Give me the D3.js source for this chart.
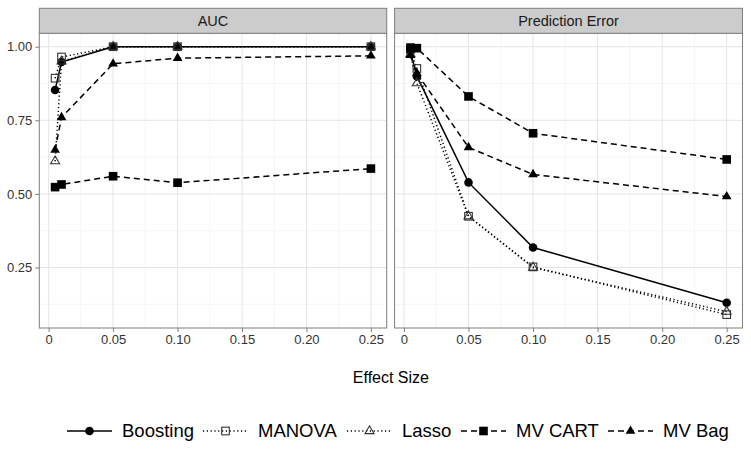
<!DOCTYPE html>
<html><head><meta charset="utf-8">
<script src="https://cdn.jsdelivr.net/npm/d3@7"></script>
<style>body{margin:0;background:#fff}svg{display:block;font-family:"Liberation Sans",Arial,Helvetica,sans-serif}</style>
</head><body><svg id="c" width="751" height="449"></svg>
<script>
const effectSizes = [0.005, 0.01, 0.05, 0.10, 0.25];
const panels = ["AUC", "Prediction Error"];
const methods = ["Boosting", "MANOVA", "Lasso", "MV CART", "MV Bag"];
const xTicks = [0, 0.05, 0.10, 0.15, 0.20, 0.25];
const xTickLabels = ["0", "0.05", "0.10", "0.15", "0.20", "0.25"];
const yTicks = [0.25, 0.50, 0.75, 1.00];
const yTickLabels = ["0.25", "0.50", "0.75", "1.00"];

const aucBoosting = [0.853, 0.948, 1.0, 1.0, 1.0];
const aucManova   = [0.893, 0.965, 1.0, 1.0, 1.0];
const aucLasso    = [0.611, 0.950, 1.0, 1.0, 1.0];
const aucCart     = [0.523, 0.532, 0.560, 0.538, 0.586];
const aucBag      = [0.649, 0.760, 0.942, 0.961, 0.969];

const peBoosting = [0.985, 0.900, 0.539, 0.318, 0.130];
const peManova   = [0.990, 0.926, 0.424, 0.252, 0.090];
const peLasso    = [0.975, 0.876, 0.424, 0.250, 0.100];
const peCart     = [0.997, 0.995, 0.831, 0.706, 0.617];
const peBag      = [0.971, 0.910, 0.658, 0.566, 0.491];

const dataByPanel = {
  "AUC": [aucBoosting, aucManova, aucLasso, aucCart, aucBag],
  "Prediction Error": [peBoosting, peManova, peLasso, peCart, peBag]
};

const dash = {"Boosting": null, "MANOVA": "1.2,2.6", "Lasso": "1.2,2.6", "MV CART": "6,4", "MV Bag": "6,4"};
const shape = {"Boosting": "circle", "MANOVA": "osquare", "Lasso": "otriangle", "MV CART": "square", "MV Bag": "triangle"};

const svg = d3.select("#c");
const pTop = 33.3, pBottom = 328, stripTop = 8.3;
const panelX = [[39.3, 386.7], [394.6, 742.5]];
const y = d3.scaleLinear().domain([0.0445, 1.0455]).range([pBottom, pTop]);

function drawMarker(g, type, cx, cy) {
  if (type === "circle") g.append("circle").attr("cx", cx).attr("cy", cy).attr("r", 4.3).attr("fill", "#000");
  else if (type === "square") g.append("rect").attr("x", cx-4.3).attr("y", cy-4.3).attr("width", 8.6).attr("height", 8.6).attr("fill", "#000");
  else if (type === "osquare") g.append("rect").attr("x", cx-3.8).attr("y", cy-3.8).attr("width", 7.6).attr("height", 7.6).attr("fill", "none").attr("stroke", "#333").attr("stroke-width", 1.1);
  else if (type === "triangle") { const r = 5.6; g.append("path").attr("d", `M${cx},${cy-r}L${cx+r*0.866},${cy+r*0.5}L${cx-r*0.866},${cy+r*0.5}Z`).attr("fill", "#000"); }
  else if (type === "otriangle") { const r = 5.2; g.append("path").attr("d", `M${cx},${cy-r}L${cx+r*0.866},${cy+r*0.5}L${cx-r*0.866},${cy+r*0.5}Z`).attr("fill", "none").attr("stroke", "#333").attr("stroke-width", 1.1); }
}

panels.forEach((pname, pi) => {
  const [x0, x1] = panelX[pi];
  const x = d3.scaleLinear().domain([-0.00725, 0.26225]).range([x0, x1]);
  const g = svg.append("g");
  g.append("rect").attr("x", x0).attr("y", pTop).attr("width", x1-x0).attr("height", pBottom-pTop).attr("fill", "#fff");
  const xMinor = [0.025, 0.075, 0.125, 0.175, 0.225];
  const yMinor = [0.125, 0.375, 0.625, 0.875];
  g.selectAll(".xm").data(xMinor).join("line").attr("x1", d=>x(d)).attr("x2", d=>x(d)).attr("y1", pTop).attr("y2", pBottom).attr("stroke", "#f5f5f5").attr("stroke-width", 1);
  g.selectAll(".ym").data(yMinor).join("line").attr("x1", x0).attr("x2", x1).attr("y1", d=>y(d)).attr("y2", d=>y(d)).attr("stroke", "#f5f5f5").attr("stroke-width", 1);
  g.selectAll(".xg").data(xTicks).join("line").attr("x1", d=>x(d)).attr("x2", d=>x(d)).attr("y1", pTop).attr("y2", pBottom).attr("stroke", "#e5e5e5").attr("stroke-width", 1);
  g.selectAll(".yg").data(yTicks).join("line").attr("x1", x0).attr("x2", x1).attr("y1", d=>y(d)).attr("y2", d=>y(d)).attr("stroke", "#e5e5e5").attr("stroke-width", 1);

  const series = dataByPanel[pname];
  const line = d3.line().x((d,i)=>x(effectSizes[i])).y(d=>y(d));
  methods.forEach((m, mi) => {
    g.append("path").attr("d", line(series[mi])).attr("fill", "none").attr("stroke", "#000")
      .attr("stroke-width", 1.5).attr("stroke-dasharray", dash[m]);
  });
  methods.forEach((m, mi) => {
    series[mi].forEach((v, i) => drawMarker(g, shape[m], x(effectSizes[i]), y(v)));
  });

  g.append("rect").attr("x", x0).attr("y", pTop).attr("width", x1-x0).attr("height", pBottom-pTop).attr("fill", "none").attr("stroke", "#7f7f7f").attr("stroke-width", 1);
  g.append("rect").attr("x", x0).attr("y", stripTop).attr("width", x1-x0).attr("height", pTop-stripTop).attr("fill", "#cccccc").attr("stroke", "#7f7f7f").attr("stroke-width", 1);
  g.append("text").attr("x", (x0+x1)/2).attr("y", (stripTop+pTop)/2).attr("dy", "0.35em").attr("text-anchor", "middle")
    .attr("font-size", 14.5).attr("fill", "#1a1a1a").text(pname);

  const xa = g.append("g").attr("transform", `translate(0,${pBottom})`)
    .call(d3.axisBottom(x).tickValues(xTicks).tickFormat((d,i)=>xTickLabels[i]).tickSize(4).tickPadding(3));
  xa.select(".domain").remove();
  xa.selectAll("line").attr("stroke", "#7f7f7f");
  xa.selectAll("text").attr("font-size", 13).attr("fill", "#333").attr("font-family", null);

  if (pi === 0) {
    const ya = g.append("g").attr("transform", `translate(${x0},0)`)
      .call(d3.axisLeft(y).tickValues(yTicks).tickFormat((d,i)=>yTickLabels[i]).tickSize(4).tickPadding(3));
    ya.select(".domain").remove();
    ya.selectAll("line").attr("stroke", "#7f7f7f");
    ya.selectAll("text").attr("font-size", 13).attr("fill", "#333").attr("font-family", null);
  }
});

svg.append("text").attr("x", (39.3+742.5)/2).attr("y", 377).attr("dy", "0.35em").attr("text-anchor", "middle")
  .attr("font-size", 16).attr("fill", "#000").text("Effect Size");

const legendX = [67, 203, 347, 461, 608];
const legendY = 431;
methods.forEach((m, i) => {
  const lx = legendX[i];
  const lg = svg.append("g");
  lg.append("line").attr("x1", lx).attr("x2", lx+45).attr("y1", legendY).attr("y2", legendY)
    .attr("stroke", "#000").attr("stroke-width", 1.5).attr("stroke-dasharray", dash[m]);
  drawMarker(lg, shape[m], lx+22.5, legendY);
  lg.append("text").attr("x", lx+55).attr("y", legendY).attr("dy", "0.35em").attr("font-size", 18.5).attr("fill", "#000").text(m);
});
</script></body></html>
